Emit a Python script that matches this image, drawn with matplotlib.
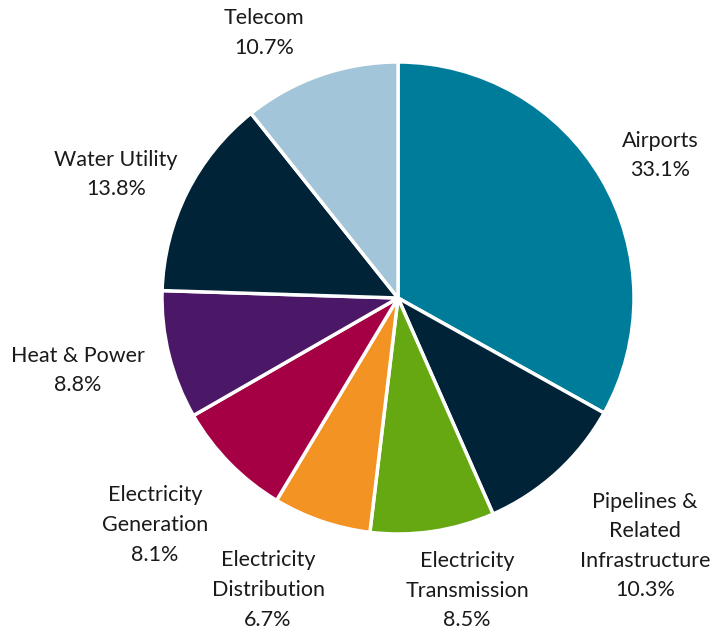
import numpy as np
import matplotlib
matplotlib.use("Agg")
import matplotlib.pyplot as plt

# sector shares (percent), clockwise from 12 o'clock
labels = ["Airports", "Pipelines &\nRelated\nInfrastructure", "Electricity\nTransmission",
          "Electricity\nDistribution", "Electricity\nGeneration", "Heat & Power",
          "Water Utility", "Telecom"]
shares = [33.1, 10.3, 8.5, 6.7, 8.1, 8.8, 13.8, 10.7]
colors = ["#007C9B", "#002337", "#65A812", "#F39323", "#A50044", "#4B1868",
          "#002337", "#A3C5D9"]
# label placement: distance from centre (pie radii) and angle nudge (deg)
label_dist = [1.263, 1.483, 1.275, 1.354, 1.409, 1.390, 1.304, 1.258]
label_nudge = [-1.9, 2.6, 4.8, -5.1, -1.4, -1.3, 3.0, 7.5]

plt.rcParams['font.family'] = ['Lato', 'DejaVu Sans']

fig = plt.figure(figsize=(7.13, 6.33), dpi=100)
ax = fig.add_axes([0, 0, 1, 1])

wedges, _ = ax.pie(shares, colors=colors, startangle=90, counterclock=False,
                   radius=1.0, wedgeprops=dict(edgecolor="white", linewidth=2.5))

for w, lab, val, d, nd in zip(wedges, labels, shares, label_dist, label_nudge):
    ang = np.deg2rad((w.theta1 + w.theta2) / 2.0 + nd)
    x = d * np.cos(ang)
    y = d * np.sin(ang)
    ax.text(x, y, "%s\n%.1f%%" % (lab, val), ha="center", va="center",
            fontsize=15.5, color="#1a1a1a", linespacing=1.6)

ax.set_xlim(-398 / 236.0, (713 - 398) / 236.0)
ax.set_ylim(-335 / 236.0, 298 / 236.0)
ax.set_aspect("equal")
ax.axis("off")

fig.savefig("out.png", dpi=100)
